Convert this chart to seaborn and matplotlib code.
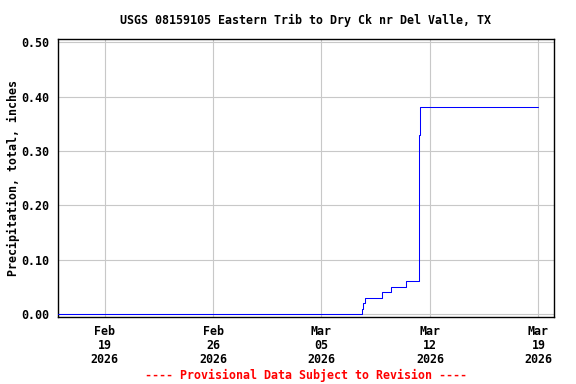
import matplotlib
matplotlib.use("Agg")
import matplotlib.pyplot as plt
import seaborn as sns
import pandas as pd

# Data (step series, cumulative precipitation in inches)
times = ["2026-02-16 00:00", "2026-03-07 14:20", "2026-03-07 15:50", "2026-03-07 19:00",
         "2026-03-08 21:20", "2026-03-09 11:20", "2026-03-10 10:30", "2026-03-11 06:40",
         "2026-03-11 07:30", "2026-03-11 09:00", "2026-03-19 00:00"]
values = [0.00, 0.01, 0.02, 0.03, 0.04, 0.05, 0.06, 0.07, 0.33, 0.38, 0.38]
tick_dates = ["2026-02-19", "2026-02-26", "2026-03-05", "2026-03-12", "2026-03-19"]
tick_labels = ["Feb\n19\n2026", "Feb\n26\n2026", "Mar\n05\n2026", "Mar\n12\n2026", "Mar\n19\n2026"]
y_ticks = [0.0, 0.1, 0.2, 0.3, 0.4, 0.5]
y_labels = ["0.00", "0.10", "0.20", "0.30", "0.40", "0.50"]

df = pd.DataFrame({"time": pd.to_datetime(times), "value": values})

sns.set_style("white")
plt.rcParams["font.family"] = ["DejaVu Sans Mono"]
plt.rcParams["font.weight"] = "bold"
plt.rcParams["text.color"] = "black"
plt.rcParams["axes.labelcolor"] = "black"
plt.rcParams["xtick.color"] = "black"
plt.rcParams["ytick.color"] = "black"
fs = 8.4

fig = plt.figure(figsize=(5.76, 3.84), dpi=100)
ax = fig.add_axes([0.1007, 0.1745, 0.9618 - 0.1007, 0.8977 - 0.1745])

sns.lineplot(data=df, x="time", y="value", ax=ax, color="#0000ff", linewidth=0.75,
             drawstyle="steps-post", zorder=3)

ax.set_xlim(pd.Timestamp("2026-02-16 00:00"), pd.Timestamp("2026-03-20 00:00"))
ax.set_ylim(-0.0055, 0.5055)
ax.set_xticks(pd.to_datetime(tick_dates))
ax.set_xticklabels(tick_labels, fontsize=fs, fontweight="bold", linespacing=1.08,
                   color="black")
ax.set_yticks(y_ticks)
ax.set_yticklabels(y_labels, fontsize=fs, fontweight="bold", color="black")
ax.tick_params(axis="both", length=0)
ax.tick_params(axis="x", pad=6)
ax.tick_params(axis="y", pad=6)

ax.grid(True, color="#c8c8c8", linewidth=0.8, zorder=0)
ax.set_axisbelow(True)
for s in ax.spines.values():
    s.set_color("black")
    s.set_linewidth(1.0)
    s.set_visible(True)

ax.set_xlabel("")
ax.set_ylabel("Precipitation, total, inches", fontsize=fs, fontweight="bold", labelpad=1,
              color="black")
ax.set_title("USGS 08159105 Eastern Trib to Dry Ck nr Del Valle, TX", fontsize=fs,
             fontweight="bold", pad=11, color="black")

fig.text(0.531, 1 - 375 / 384, "---- Provisional Data Subject to Revision ----",
         color="red", fontsize=fs, fontweight="bold", ha="center", va="center")

fig.savefig("out.png", dpi=100)
